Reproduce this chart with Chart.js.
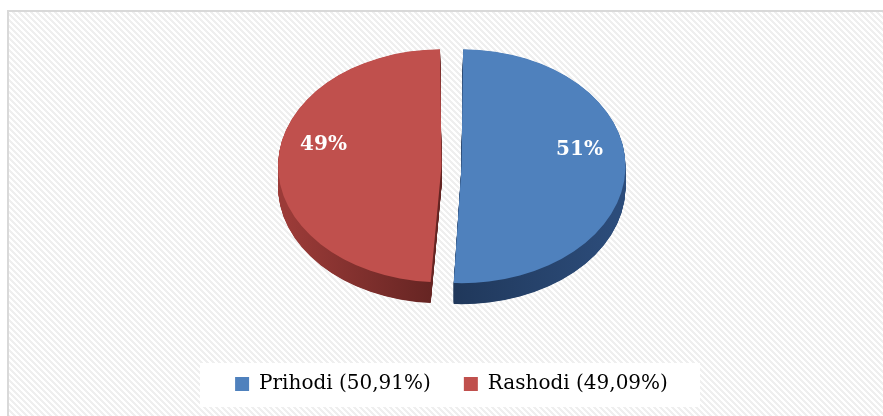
<!DOCTYPE html>
<html>
<head>
<meta charset="utf-8">
<title>Prihodi i rashodi</title>
<script src="https://cdn.jsdelivr.net/npm/chart.js@4.4.1/dist/chart.umd.min.js"></script>
<style>
  html, body { margin: 0; padding: 0; background: #fff; }
  #wrap { width: 883px; height: 416px; }
</style>
</head>
<body>
<div id="wrap"><canvas id="pieChart"></canvas></div>
<script>
// Data
const categories = ['Prihodi (50,91%)', 'Rashodi (49,09%)'];
const shares = [50.91, 49.09];
const topColors = ['#4f81bd', '#c0504d'];
const sideColors = [['#15263f', '#2c4c7a'], ['#9b3b38', '#2a0c0b']];

// 3D look
const tilt = 0.713;   // vertical squash
const depth = 21;     // pie thickness, px
const pieY = 166;     // centre of the top face

// diagonal hatch of the frame
function hatchPattern(ctx) {
  const c = document.createElement('canvas');
  c.width = 6; c.height = 6;
  const g = c.getContext('2d');
  g.fillStyle = '#ffffff';
  g.fillRect(0, 0, 6, 6);
  g.fillStyle = '#efefef';
  for (let y = 0; y < 6; y++) {
    for (let x = 0; x < 6; x++) {
      if (((x - y) % 6 + 6) % 6 < 3) g.fillRect(x, y, 1, 1);
    }
  }
  return ctx.createPattern(c, 'repeat');
}

const framePlugin = {
  id: 'frame',
  beforeDraw(chart) {
    const ctx = chart.ctx;
    const w = chart.width, h = chart.height;
    ctx.save();
    ctx.fillStyle = '#fff';
    ctx.fillRect(0, 0, w, h);
    ctx.fillStyle = hatchPattern(ctx);
    ctx.fillRect(9, 12, w - 9, h - 12);
    ctx.fillStyle = '#d9d9d9';
    ctx.fillRect(7, 10, w - 7, 2);
    ctx.fillRect(7, 10, 2, h - 10);
    // legend panel
    ctx.fillStyle = '#fff';
    ctx.fillRect(200, 363, 500, 44);
    ctx.restore();
  }
};

const tiltPlugin = {
  id: 'tilt',
  beforeDatasetsDraw(chart) {
    const ctx = chart.ctx;
    const arcs = chart.getDatasetMeta(0).data;
    const cx = arcs[0].x, cy = arcs[0].y;
    ctx.save();
    ctx.translate(cx, pieY);
    ctx.scale(1, tilt);
    ctx.translate(-cx, -cy);
    // side walls: the same arcs drawn darker and lower, tops cover them
    arcs.forEach((arc, i) => {
      const r = arc.outerRadius;
      const grad = ctx.createLinearGradient(arc.x - r, 0, arc.x + r, 0);
      grad.addColorStop(0, sideColors[i][0]);
      grad.addColorStop(1, sideColors[i][1]);
      const saved = arc.options;
      arc.options = Object.create(saved, {
        backgroundColor: { value: grad },
        borderWidth: { value: 0 }
      });
      for (let d = depth; d > 0; d -= 0.5) {
        ctx.save();
        ctx.translate(0, d / tilt);
        arc.draw(ctx);
        ctx.restore();
      }
      arc.options = saved;
    });
  },
  afterDatasetsDraw(chart) {
    const ctx = chart.ctx;
    ctx.restore();
    const arcs = chart.getDatasetMeta(0).data;
    ctx.save();
    ctx.font = 'bold 20px "DejaVu Serif"';
    ctx.fillStyle = '#fff';
    ctx.textAlign = 'center';
    ctx.textBaseline = 'middle';
    arcs.forEach((arc, i) => {
      const mid = (arc.startAngle + arc.endAngle) / 2;
      const shift = (arc.options.offset || 0) / 4;
      const r = (arc.outerRadius + shift) * 0.72 + shift;
      const lx = arc.x + Math.cos(mid) * r;
      const ly = pieY + Math.sin(mid) * r * tilt - 19;
      ctx.fillText(Math.round(shares[i]) + '%', lx, ly);
    });
    ctx.restore();
  }
};

new Chart(document.getElementById('pieChart'), {
  type: 'pie',
  data: {
    labels: categories,
    datasets: [{
      data: shares,
      backgroundColor: topColors,
      borderWidth: 0,
      offset: 40
    }]
  },
  options: {
    responsive: true,
    maintainAspectRatio: false,
    animation: false,
    radius: 154,
    layout: { padding: { left: 20, bottom: 12 } },
    plugins: {
      legend: {
        position: 'bottom',
        labels: {
          boxWidth: 14,
          boxHeight: 14,
          padding: 33,
          color: '#000',
          font: { family: 'DejaVu Serif', size: 20 }
        }
      },
      tooltip: { enabled: false }
    }
  },
  plugins: [framePlugin, tiltPlugin]
});
</script>
</body>
</html>
